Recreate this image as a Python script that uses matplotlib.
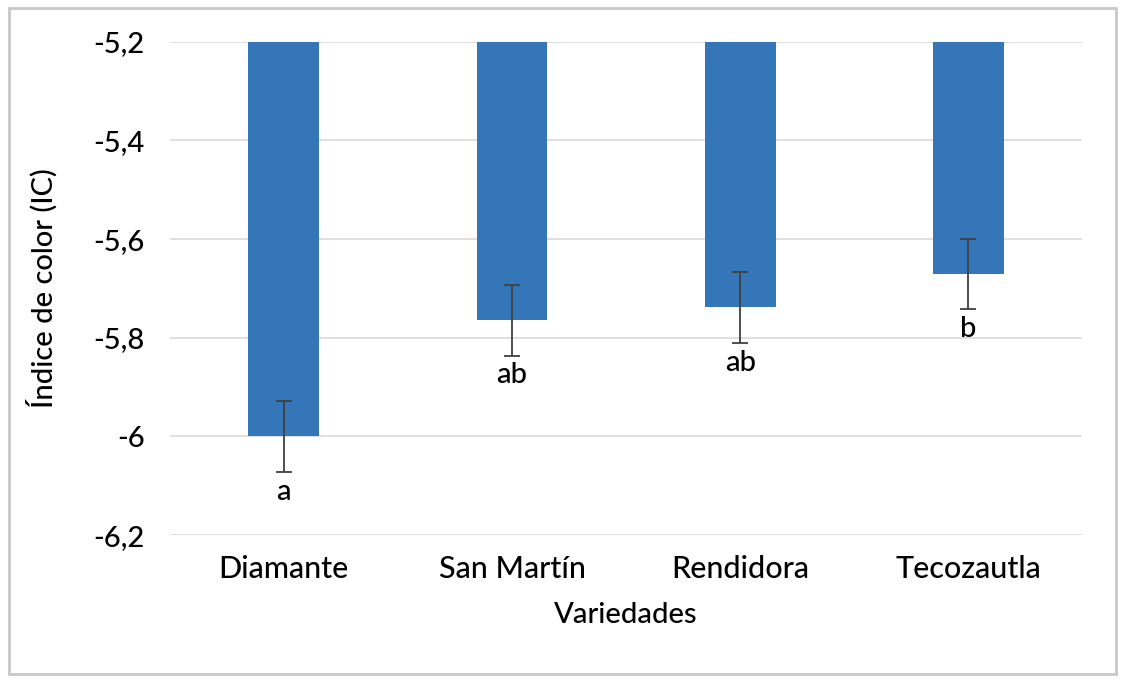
import matplotlib.pyplot as plt
from matplotlib.patches import Rectangle
from matplotlib.ticker import FuncFormatter

variedades = ["Diamante", "San Martín", "Rendidora", "Tecozautla"]
indice = [-6.0, -5.764, -5.738, -5.671]
error = [0.072, 0.072, 0.072, 0.071]
letras = ["a", "ab", "ab", "b"]

plt.rcParams["font.family"] = ["Lato", "DejaVu Sans"]

fig = plt.figure(figsize=(11.24, 6.86), dpi=100)
ax = fig.add_axes([0.151, 0.220, 0.812, 0.719])

base = -5.2
x = range(len(variedades))
alturas = [v - base for v in indice]
ax.bar(x, alturas, bottom=base, width=0.31, color="#3476b8", zorder=2)
ax.errorbar(x, indice, yerr=error, fmt="none", ecolor="#404040",
            elinewidth=1.3, capsize=5.5, capthick=1.3, zorder=3)

for i, (v, e, l) in enumerate(zip(indice, error, letras)):
    ax.annotate(l, (i, v - e), xytext=(0, -5), textcoords="offset points",
                ha="center", va="top", fontsize=21, fontweight="medium", color="black")

ax.set_ylim(-6.2, -5.2)
ax.set_xlim(-0.5, 3.5)
ax.set_yticks([-6.2, -6.0, -5.8, -5.6, -5.4, -5.2])
ax.yaxis.set_major_formatter(FuncFormatter(
    lambda v, p: ("%g" % round(v, 1)).replace(".", ",")))
ax.set_xticks(list(x))
ax.set_xticklabels(variedades)
ax.tick_params(length=0, labelsize=21, pad=14)
ax.tick_params(axis="x", labelsize=22)
ax.tick_params(axis="y", pad=18)
for t in ax.get_xticklabels() + ax.get_yticklabels():
    t.set_fontweight("medium")
ax.grid(axis="y", color="#d9d9d9", linewidth=1.2, zorder=0)
for s in ax.spines.values():
    s.set_visible(False)

ax.set_xlabel("Variedades", fontsize=21, fontweight="medium", labelpad=14)
ax.set_ylabel("Índice de color (IC)", fontsize=21, fontweight="medium", labelpad=26)

fig.patches.append(Rectangle((0.008, 0.018), 0.985, 0.970, transform=fig.transFigure,
                             fill=False, edgecolor="#c8c8c8", linewidth=2))

fig.savefig("out.png", dpi=100)
